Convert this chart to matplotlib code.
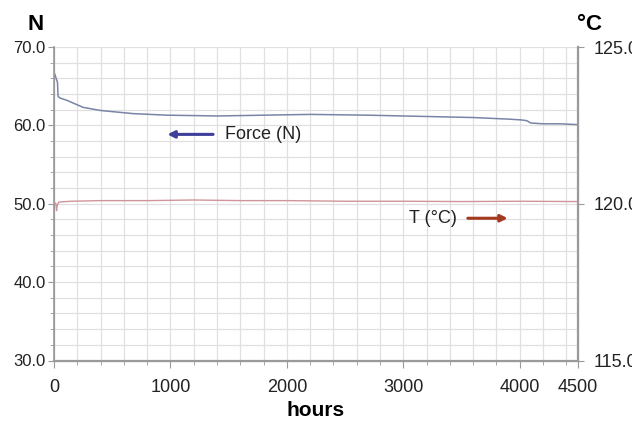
import matplotlib
matplotlib.use('Agg')
import matplotlib.pyplot as plt
from matplotlib.ticker import MultipleLocator, FixedLocator

# data
hours_f = [0, 10, 20, 30, 35, 50, 110, 250, 400, 680, 970, 1200, 1400,
           1600, 1800, 2000, 2200, 2460, 2700, 3000, 3300, 3600, 3900,
           4010, 4060, 4095, 4200, 4350, 4490]
force = [66.8, 66.4, 65.9, 65.5, 63.7, 63.5, 63.2, 62.3, 61.9, 61.5, 61.3,
         61.25, 61.2, 61.25, 61.3, 61.35, 61.4, 61.35, 61.3, 61.2, 61.1,
         61.0, 60.8, 60.7, 60.6, 60.3, 60.2, 60.2, 60.1]

hours_t = [0, 15, 22, 28, 40, 60, 150, 400, 800, 1200, 1600, 2000, 2500,
           3000, 3500, 4000, 4490]
temp = [120.03, 120.02, 119.78, 119.95, 120.05, 120.06, 120.08, 120.1,
        120.1, 120.12, 120.1, 120.1, 120.08, 120.08, 120.07, 120.08, 120.07]

x_ticks = [0, 1000, 2000, 3000, 4000, 4500]
n_ticks = [30, 40, 50, 60, 70]
t_ticks = [115, 120, 125]

plt.rcParams['font.family'] = ['Liberation Sans', 'DejaVu Sans']

fig = plt.figure(figsize=(6.32, 4.26), dpi=100)
ax = fig.add_axes([54 / 632, 1 - 360.5 / 426, 524 / 632, 313.5 / 426])
ax2 = ax.twinx()

ax.plot(hours_f, force, color='#7a84a6', lw=1.1, zorder=3)
ax2.plot(hours_t, temp, color='#d0959a', lw=1.0, zorder=3)

ax.set_xlim(0, 4500)
ax.set_ylim(30, 70)
ax2.set_ylim(115, 125)

ax.xaxis.set_major_locator(FixedLocator(x_ticks))
ax.xaxis.set_minor_locator(MultipleLocator(200))
ax.yaxis.set_major_locator(FixedLocator(n_ticks))
ax.yaxis.set_minor_locator(MultipleLocator(2))
ax2.yaxis.set_major_locator(FixedLocator(t_ticks))
ax2.yaxis.set_minor_locator(MultipleLocator(1))

ax.set_xticklabels([str(v) for v in x_ticks], fontsize=13)
ax.set_yticklabels(['%.1f' % v for v in n_ticks], fontsize=12)
ax2.set_yticklabels(['%.1f' % v for v in t_ticks], fontsize=13)

ax.grid(True, which='both', color='#e0e0e0', lw=0.9)
ax.set_axisbelow(True)

for a in (ax, ax2):
    a.spines['top'].set_visible(False)
    for s in ('left', 'right', 'bottom'):
        a.spines[s].set_color('#9a9a9a')
ax.spines['bottom'].set_linewidth(1.6)
ax2.spines['right'].set_linewidth(1.6)
ax.spines['left'].set_linewidth(1.2)

ax.tick_params(axis='x', which='major', length=5, color='#9a9a9a', pad=8, labelcolor='#222222')
ax.tick_params(axis='x', which='minor', length=3, color='#9a9a9a')
ax.tick_params(axis='y', which='major', length=4, color='#9a9a9a', pad=2, labelcolor='#222222')
ax.tick_params(axis='y', which='minor', length=3, color='#9a9a9a')
ax2.tick_params(axis='y', which='major', length=4, color='#9a9a9a', pad=7, labelcolor='#222222')
ax2.tick_params(axis='y', which='minor', length=0)

fig.text(36 / 632, 1 - 25 / 426, 'N', fontsize=16, fontweight='bold', ha='center', va='center')
fig.text(589 / 632, 1 - 25 / 426, '°C', fontsize=16, fontweight='bold', ha='center', va='center')
fig.text(316 / 632, 1 - 411 / 426, 'hours', fontsize=15, fontweight='bold', ha='center', va='center')

# in-plot legend labels with arrows
ax.annotate('', xy=(950, 58.85), xytext=(1390, 58.85),
            arrowprops=dict(arrowstyle='-|>', color='#3d3f9b', lw=2.2, mutation_scale=10))
ax.text(1470, 58.85, 'Force (N)', fontsize=13, va='center', ha='left', color='#222222')
ax.annotate('', xy=(3920, 48.15), xytext=(3530, 48.15),
            arrowprops=dict(arrowstyle='-|>', color='#a4391f', lw=2.2, mutation_scale=10))
ax.text(3460, 48.15, 'T (°C)', fontsize=13, va='center', ha='right', color='#222222')

fig.savefig('out.png', dpi=100)
